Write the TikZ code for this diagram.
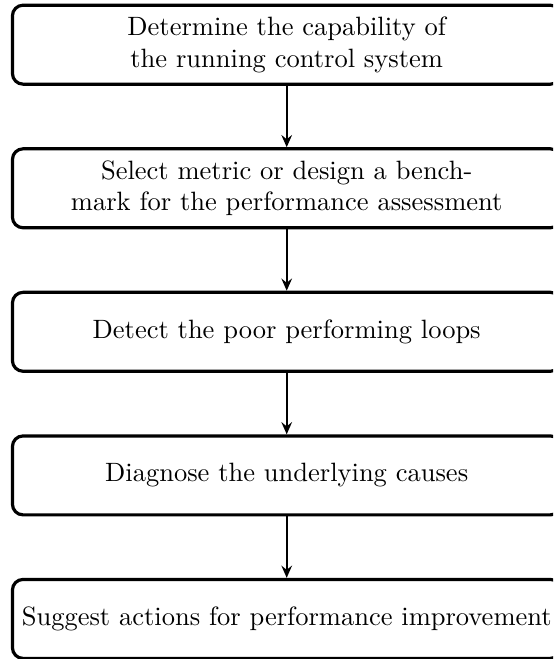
\documentclass[tikz,border=0pt]{standalone}
\usetikzlibrary{arrows.meta}
\begin{document}
\begin{tikzpicture}[x=0.3774pt, y=-0.3774pt,
  stepbox/.style={draw, very thick, rounded corners=4pt, align=center,
    text width=201pt, inner xsep=3pt, inner ysep=3.33pt, minimum height=29.8pt},
  flow/.style={thick, -{Stealth[length=4.6pt, width=4pt, inset=1.6pt]}}]
  \useasboundingbox (0,0) rectangle (553,659);
  \clip (0,0) rectangle (553,659);
  \node[stepbox] (s1) at (286.7,44.7) {Determine the capability of\\the running control system};
  \node[stepbox] (s2) at (286.7,188.3) {Select metric or design a bench-\\mark for the performance assessment};
  \node[stepbox] (s3) at (286.7,331.8) {Detect the poor performing loops};
  \node[stepbox] (s4) at (286.7,475.4) {Diagnose the underlying causes};
  \node[stepbox] (s5) at (286.7,618.9) {\mbox{Suggest actions for performance improvement}};
  \draw[flow] (s1) -- (s2);
  \draw[flow] (s2) -- (s3);
  \draw[flow] (s3) -- (s4);
  \draw[flow] (s4) -- (s5);
\end{tikzpicture}
\end{document}
